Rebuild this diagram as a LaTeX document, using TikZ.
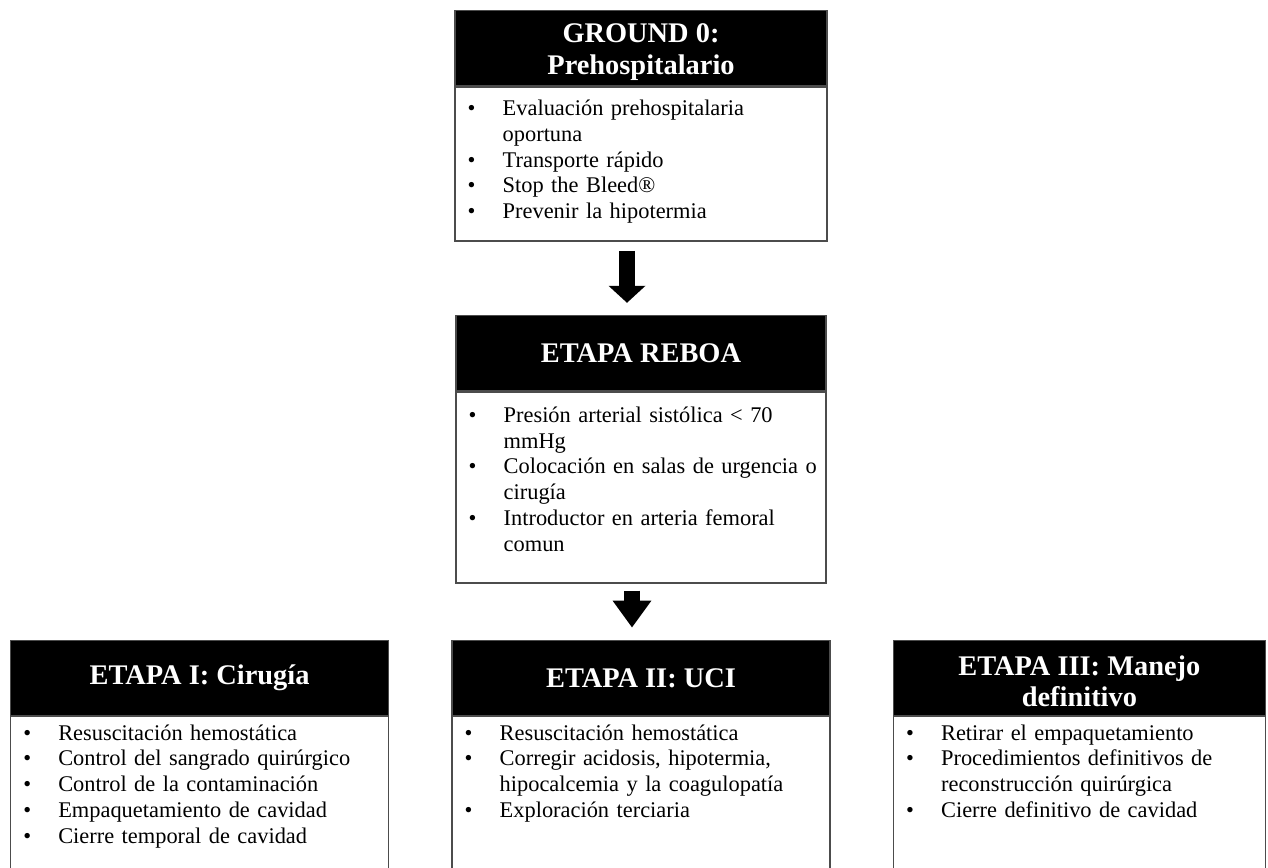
\documentclass[tikz,border=0pt]{standalone}
\usepackage{fontspec}
\setmainfont{Liberation Serif}
\usetikzlibrary{arrows.meta, positioning}

\newcommand{\itm}[1]{\noindent\makebox[17.5pt][l]{•}\mbox{#1}\par}
\newcommand{\cnt}[1]{\noindent\hspace*{17.5pt}\mbox{#1}\par}

\begin{document}
\begin{tikzpicture}[
    x=0.5pt, y=-0.5pt,
    head/.style={draw=black!70, line width=0.7pt, fill=black, text=white, align=center,
      font=\fontsize{14.2}{15.8}\selectfont\bfseries, minimum width=186pt, minimum height=37.5pt, inner sep=0pt},
    body/.style={draw=black!70, line width=0.7pt, fill=white, minimum width=186pt, inner sep=0pt},
    items/.style={anchor=base west, text width=180pt, align=left, inner sep=0pt,
      font=\fontsize{11.2}{12.9}\selectfont},
    blockarr/.style={line width=8.25pt}
  ]
    \clip (0,0) rectangle (1268,867);
    \fill[white] (0,0) rectangle (1268,867);

    % ground 0
    \node[head, anchor=north] (g0h) at (641,10) {\rule{0pt}{13.5pt}GROUND 0:\\Prehospitalario};
    \node[body, minimum height=77pt, below=0pt of g0h] (g0b) {};
    \node[items] (g0t) at ([shift={(6.5pt,-14.5pt)}]g0b.north west)
      {\itm{Evaluación prehospitalaria}\cnt{oportuna}\itm{Transporte rápido}%
       \itm{Stop the Bleed®}\itm{Prevenir la hipotermia}};

    % reboa
    \node[head, minimum width=185pt, below=36.5pt of g0b] (rbh) {ETAPA REBOA};
    \node[body, minimum width=185pt, minimum height=95.5pt, below=0pt of rbh] (rbb) {};
    \node[items] (rbt) at ([shift={(6.5pt,-15.5pt)}]rbb.north west)
      {\itm{Presión arterial sistólica < 70}\cnt{mmHg}%
       \itm{Colocación en salas de urgencia o}\cnt{cirugía}%
       \itm{Introductor en arteria femoral}\cnt{comun}};

    % etapas
    \node[head, minimum width=189pt, below=28pt of rbb] (e2h) {ETAPA II: UCI};
    \node[head, minimum width=189pt, left=31pt of e2h] (e1h) {ETAPA I: Cirugía};
    \node[head, right=31pt of e2h] (e3h) {\rule{0pt}{13.5pt}ETAPA III: Manejo\\definitivo};
    \node[body, minimum width=189pt, minimum height=82pt, below=0pt of e1h] (e1b) {};
    \node[body, minimum width=189pt, minimum height=82pt, below=0pt of e2h] (e2b) {};
    \node[body, minimum height=82pt, below=0pt of e3h] (e3b) {};
    \node[items] (e1t) at ([shift={(6.5pt,-12pt)}]e1b.north west)
      {\itm{Resuscitación hemostática}\itm{Control del sangrado quirúrgico}%
       \itm{Control de la contaminación}\itm{Empaquetamiento de cavidad}%
       \itm{Cierre temporal de cavidad}};
    \node[items] (e2t) at ([shift={(6.5pt,-12pt)}]e2b.north west)
      {\itm{Resuscitación hemostática}\itm{Corregir acidosis, hipotermia,}%
       \cnt{hipocalcemia y la coagulopatía}\itm{Exploración terciaria}};
    \node[items] (e3t) at ([shift={(6.5pt,-12pt)}]e3b.north west)
      {\itm{Retirar el empaquetamiento}\itm{Procedimientos definitivos de}%
       \cnt{reconstrucción quirúrgica}\itm{Cierre definitivo de cavidad}};

    % arrows
    \draw[blockarr, -{Triangle[length=8.5pt,width=18pt]}, shorten <=4.5pt, shorten >=6pt]
      ([xshift=-7pt]g0b.south) -- ([xshift=-7pt]rbh.north);
    \draw[blockarr, -{Triangle[length=13.5pt,width=18.5pt]}, shorten <=3.5pt, shorten >=6pt]
      ([xshift=-4.5pt]rbb.south) -- ([xshift=-4.5pt]e2h.north);
\end{tikzpicture}
\end{document}
